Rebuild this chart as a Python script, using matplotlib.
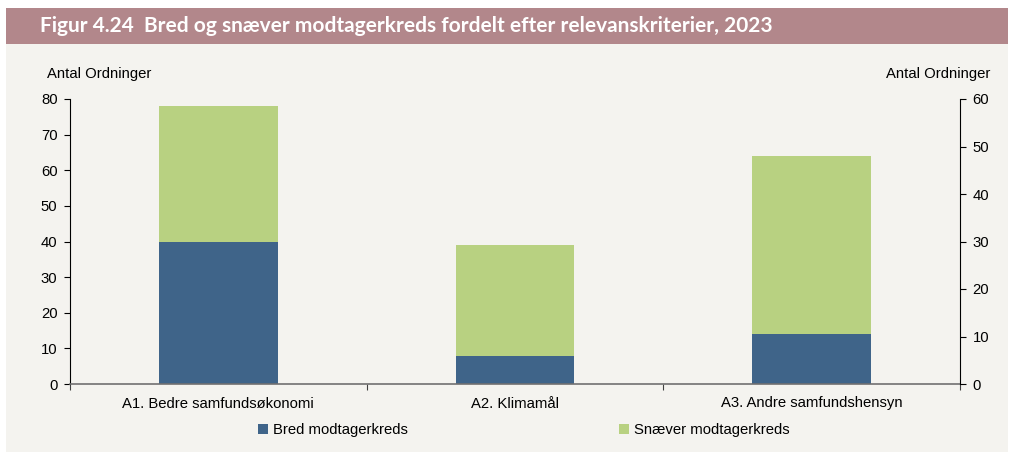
import matplotlib
matplotlib.use("Agg")
import matplotlib.pyplot as plt
from matplotlib.patches import Rectangle

categories = ["A1. Bedre samfundsøkonomi", "A2. Klimamål", "A3. Andre samfundshensyn"]
bred = [40, 8, 14]
snaever = [38, 31, 50]
series_names = ["Bred modtagerkreds", "Snæver modtagerkreds"]
left_ticks = [0, 10, 20, 30, 40, 50, 60, 70, 80]
right_ticks = [0, 10, 20, 30, 40, 50, 60]
title = "Figur 4.24  Bred og snæver modtagerkreds fordelt efter relevanskriterier, 2023"

C_BLUE = "#3f6489"
C_GREEN = "#b8d181"
C_BG = "#f4f3ef"
C_TITLE = "#b2878b"
FS = 10.7

plt.rcParams['font.family'] = ['Liberation Sans', 'DejaVu Sans']

W, H = 1011, 455
fig = plt.figure(figsize=(W / 100, H / 100), dpi=100)
fig.patch.set_facecolor("white")

# background panel and title bar
fig.patches.append(Rectangle((6 / W, 1 - 452 / H), (1008 - 6) / W, (452 - 44) / H,
                             transform=fig.transFigure, facecolor=C_BG, edgecolor="none", zorder=-10))
fig.patches.append(Rectangle((6 / W, 1 - 44 / H), (1008 - 6) / W, (44 - 8) / H,
                             transform=fig.transFigure, facecolor=C_TITLE, edgecolor="none", zorder=-10))
fig.text(40 / W, 1 - 26 / H, title, color="white", fontsize=15, fontweight="bold",
         family=["Lato", "DejaVu Sans"], va="center", ha="left")

ax = fig.add_axes([70 / W, 1 - 384 / H, (960 - 70) / W, (384 - 99) / H])
ax.set_facecolor("none")
x = list(range(len(categories)))
ax.bar(x, bred, width=0.4, color=C_BLUE, label=series_names[0], zorder=2)
ax.bar(x, snaever, width=0.4, bottom=bred, color=C_GREEN, label=series_names[1], zorder=2)
ax.set_xlim(-0.5, len(categories) - 0.5)
ax.set_ylim(0, 80)
ax.set_yticks(left_ticks)
ax.set_xticks([i - 0.5 for i in range(len(categories) + 1)], minor=False)
ax.set_xticklabels([])
ax.set_xticks(x, minor=True)
ax.set_xticklabels(categories, minor=True, fontsize=FS)
ax.tick_params(axis="x", which="minor", length=0, pad=9)
ax.tick_params(axis="x", which="major", length=4, direction="out", color="#404040")
ax.tick_params(axis="y", length=4, direction="out", labelsize=FS, pad=5)
for s in ["top", "right"]:
    ax.spines[s].set_visible(False)
ax.spines["bottom"].set_color("#707070")
ax.spines["bottom"].set_linewidth(1.2)
ax.spines["left"].set_color("black")

ax2 = ax.twinx()
ax2.set_ylim(0, 60)
ax2.set_yticks(right_ticks)
ax2.tick_params(axis="y", length=4, direction="out", labelsize=FS, pad=5)
for s in ["top", "left", "bottom"]:
    ax2.spines[s].set_visible(False)
ax2.spines["right"].set_color("black")

fig.text(47 / W, 1 - 74 / H, "Antal Ordninger", fontsize=FS, ha="left", va="center")
fig.text(990 / W, 1 - 74 / H, "Antal Ordninger", fontsize=FS, ha="right", va="center")

h, l = ax.get_legend_handles_labels()
fig.legend(h, l, loc="center", bbox_to_anchor=(523.5 / W, 1 - 430 / H), ncol=2, frameon=False,
           fontsize=FS, handlelength=0.7, handleheight=0.7, handletextpad=0.3, columnspacing=14.2)

fig.savefig("out.png", dpi=100)
